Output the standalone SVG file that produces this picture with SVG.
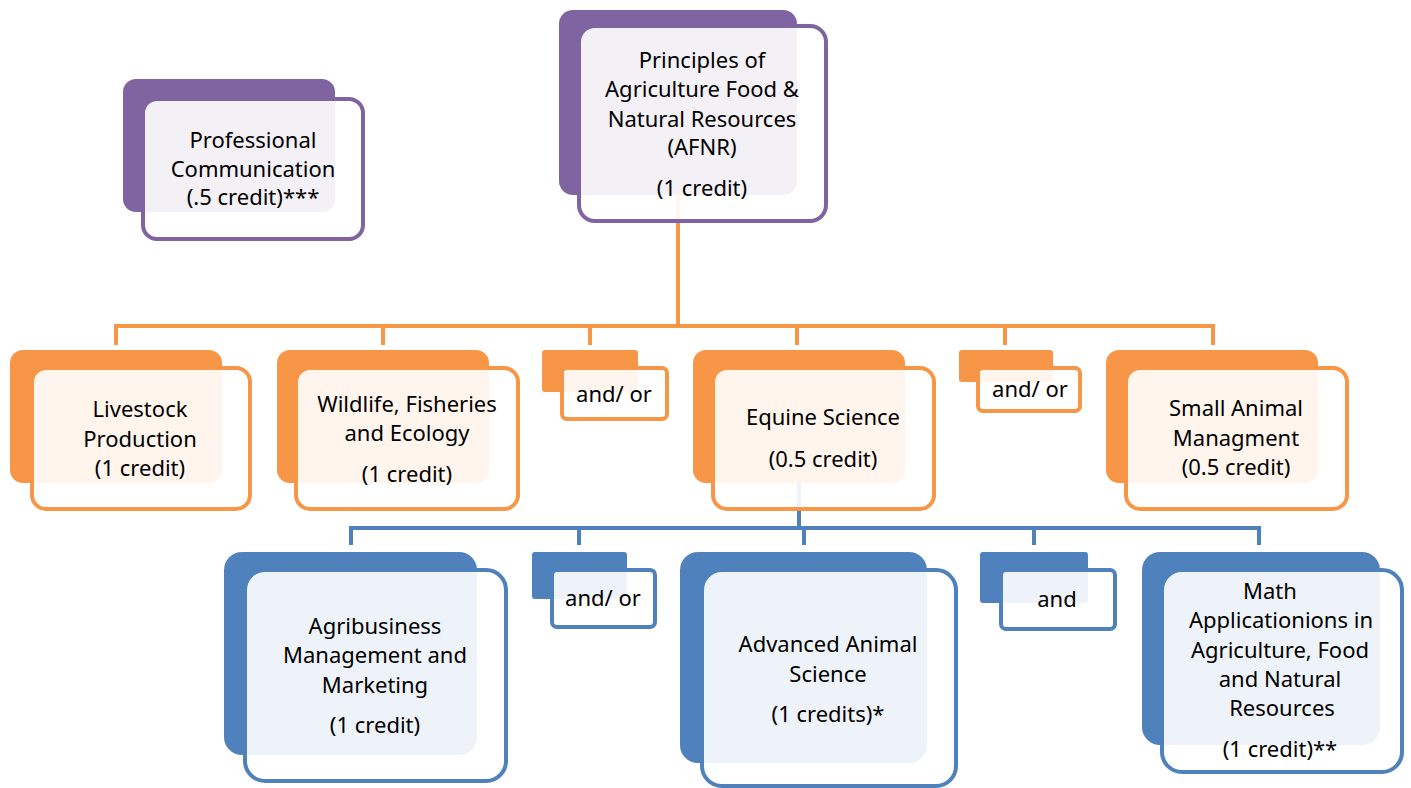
<svg xmlns="http://www.w3.org/2000/svg" width="1411" height="788" viewBox="0 0 1411 788">
<style>
text{font-family:"Noto Sans","Open Sans","DejaVu Sans",sans-serif;font-size:22px;fill:#000;text-anchor:middle}
.pb{fill:#8064A2}.pf{fill:#fff;fill-opacity:0.9;stroke:#8064A2;stroke-width:4}
.ob{fill:#F79646}.of{fill:#fff;fill-opacity:0.9;stroke:#F79646;stroke-width:4}
.bb{fill:#4F81BD}.bf{fill:#fff;fill-opacity:0.9;stroke:#4F81BD;stroke-width:4}
.oc{fill:none;stroke:#F79646;stroke-width:4}
.bc{fill:none;stroke:#4F81BD;stroke-width:4}
</style>
<rect width="1411" height="788" fill="#fff"/>
<g id="connectors">
<path class="oc" d="M678 195V326M116 345V326H1213V345M383 326V345M590 326V345M797 326V345M1005 326V345"/>
<path class="bc" d="M799 483V528M351 545V528H1259V545M579 528V545M804 528V545M1034 528V545"/>
</g>
<g id="professional">
<rect class="pb" x="123" y="79" width="212" height="133" rx="13"/>
<rect class="pf" x="143" y="99" width="220" height="140" rx="14"/>
<text x="253" y="148">Professional</text>
<text x="253" y="177">Communication</text>
<text x="253" y="205">(.5 credit)***</text>
</g>
<g id="afnr">
<rect class="pb" x="559" y="10" width="238" height="185" rx="14"/>
<rect class="pf" x="579" y="26" width="247" height="195" rx="16"/>
<text x="702" y="68">Principles of</text>
<text x="702" y="97">Agriculture Food &amp;</text>
<text x="702" y="127">Natural Resources</text>
<text x="702" y="155">(AFNR)</text>
<text x="702" y="196">(1 credit)</text>
</g>
<g id="livestock">
<rect class="ob" x="10" y="350" width="212" height="133" rx="13"/>
<rect class="of" x="32" y="368" width="218" height="141" rx="14"/>
<text x="140" y="417">Livestock</text>
<text x="140" y="447">Production</text>
<text x="140" y="476">(1 credit)</text>
</g>
<g id="wildlife">
<rect class="ob" x="277" y="350" width="212" height="133" rx="13"/>
<rect class="of" x="296" y="368" width="222" height="141" rx="14"/>
<text x="407" y="412">Wildlife, Fisheries</text>
<text x="407" y="441">and Ecology</text>
<text x="407" y="482">(1 credit)</text>
</g>
<g id="andor1">
<rect class="ob" x="542" y="350" width="96" height="42" rx="3"/>
<rect class="of" x="562" y="368" width="105" height="51" rx="5"/>
<text x="614" y="402">and/ or</text>
</g>
<g id="equine">
<rect class="ob" x="693" y="350" width="212" height="133" rx="13"/>
<rect class="of" x="713" y="368" width="221" height="141" rx="14"/>
<text x="823" y="425">Equine Science</text>
<text x="823" y="467">(0.5 credit)</text>
</g>
<g id="andor2">
<rect class="ob" x="959" y="350" width="94" height="32" rx="3"/>
<rect class="of" x="978" y="368" width="102" height="43" rx="5"/>
<text x="1030" y="397">and/ or</text>
</g>
<g id="smallanimal">
<rect class="ob" x="1106" y="350" width="212" height="133" rx="13"/>
<rect class="of" x="1126" y="368" width="221" height="141" rx="14"/>
<text x="1236" y="416">Small Animal</text>
<text x="1236" y="446">Managment</text>
<text x="1236" y="475">(0.5 credit)</text>
</g>
<g id="agribusiness">
<rect class="bb" x="224" y="552" width="253" height="203" rx="18"/>
<rect class="bf" x="245" y="570" width="261" height="211" rx="20"/>
<text x="375" y="634">Agribusiness</text>
<text x="375" y="663">Management and</text>
<text x="375" y="693">Marketing</text>
<text x="375" y="733">(1 credit)</text>
</g>
<g id="andor3">
<rect class="bb" x="532" y="552" width="95" height="47" rx="3"/>
<rect class="bf" x="552" y="570" width="103" height="57" rx="5"/>
<text x="603" y="606">and/ or</text>
</g>
<g id="advanced">
<rect class="bb" x="680" y="552" width="247" height="211" rx="18"/>
<rect class="bf" x="702" y="570" width="254" height="216" rx="20"/>
<text x="828" y="652">Advanced Animal</text>
<text x="828" y="682">Science</text>
<text x="828" y="722">(1 credits)*</text>
</g>
<g id="and">
<rect class="bb" x="980" y="552" width="108" height="51" rx="3"/>
<rect class="bf" x="1001" y="570" width="114" height="59" rx="5"/>
<text x="1057" y="607">and</text>
</g>
<g id="math">
<rect class="bb" x="1142" y="552" width="238" height="193" rx="18"/>
<rect class="bf" x="1162" y="570" width="240" height="202" rx="20"/>
<text x="1270" y="599">Math</text>
<text x="1281" y="628">Applicationions in</text>
<text x="1280" y="658">Agriculture, Food</text>
<text x="1280" y="687">and Natural</text>
<text x="1282" y="716">Resources</text>
<text x="1280" y="757">(1 credit)**</text>
</g>
</svg>
